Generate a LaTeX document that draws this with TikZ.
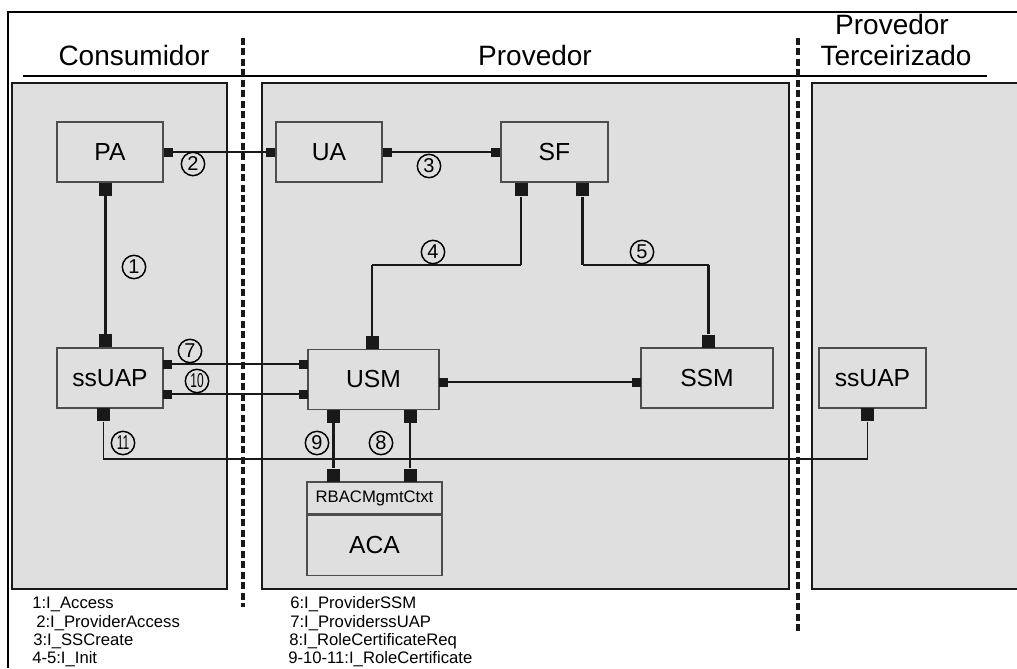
\documentclass[tikz,border=0pt]{standalone}
\usepackage{fontspec}
\setmainfont{Liberation Sans}
\usetikzlibrary{positioning}
\definecolor{panelgray}{HTML}{DFDFDF}
\definecolor{boxline}{HTML}{4D4D4D}
\tikzset{
  panel/.style={draw=black!90, line width=1.1pt, fill=panelgray},
  comp/.style={draw=boxline, line width=0.8pt, fill=panelgray, minimum height=45pt, inner sep=0pt, font=\fontsize{18.5}{18.5}\selectfont},
  sport/.style={fill=black!90, minimum size=6.75pt, inner sep=0pt},
  bport/.style={fill=black!90, minimum size=9.75pt, inner sep=0pt},
  wire/.style={line width=0.9pt, draw=black!90},
  twire/.style={line width=1.6pt, draw=black!90},
  cnum/.style={circle, draw, line width=1.1pt, minimum size=17.5pt, inner sep=0pt, font=\fontsize{15}{15}\selectfont},
  head/.style={font=\fontsize{21}{21}\selectfont, anchor=base, inner sep=0pt},
  leg/.style={font=\fontsize{12.5}{12.5}\selectfont, anchor=base west, inner sep=0pt},
  sep/.style={line width=2.6pt, dash pattern=on 5.25pt off 2.6pt, draw=black!90},
}
\newcommand{\twodig}[1]{\scalebox{0.6}[1]{#1}}

\begin{document}
\begin{tikzpicture}[x=0.75pt, y=-0.75pt]
  \useasboundingbox (0,0) rectangle (1017,668);
  % frame and headings
  \draw[line width=1.5pt] (8,668) -- (8,12) -- (1017,12);
  \node[head] (hcons) at (134,65) {Consumidor};
  \node[head] (hprov) at (535,65) {Provedor};
  \node[head] (hterca) at (892,34) {Provedor};
  \node[head] (htercb) at (896,65) {Terceirizado};
  \draw[line width=0.8pt] (23,76) -- (987,76);
  % panels
  \draw[panel] (12,83) rectangle (227,589);
  \draw[panel] (262,83) rectangle (789,589);
  \draw[panel] (812,83) rectangle (1022,589);
  \draw[sep] (243,38) -- (243,607);
  \draw[sep] (798,38) -- (798,633);

  % components
  \node[comp, minimum width=79.5pt] (pa) at (110,152) {PA};
  \node[comp, minimum width=79.5pt] (ua) at (329,152) {UA};
  \node[comp, minimum width=80.25pt] (sf) at (554.5,152) {SF};
  \node[comp, minimum width=79.5pt] (ssl) at (110,378) {ssUAP};
  \node[comp, minimum width=98.25pt] (usm) at (373.5,379.5) {USM};
  \node[comp, minimum width=99pt] (ssm) at (707,378) {SSM};
  \node[comp, minimum width=80.25pt] (ssr) at (872.5,378) {ssUAP};
  \node[comp, minimum width=101.25pt, minimum height=24pt, font=\fontsize{12.5}{12.5}\selectfont] (rb) at (374.5,498) {RBACMgmtCtxt};
  \node[comp, minimum width=101.25pt, anchor=north] (aca) at (rb.south) {ACA};

  % ports
  \node[sport, anchor=west] (pa-e) at (pa.east) {};
  \node[sport, anchor=east] (ua-w) at (ua.west) {};
  \node[sport, anchor=west] (ua-e) at (ua.east) {};
  \node[sport, anchor=east] (sf-w) at (sf.west) {};
  \node[bport, anchor=north] (pa-b) at ([xshift=-3.4pt]pa.south) {};
  \node[bport, anchor=south] (ssl-t) at ([xshift=-3.4pt]ssl.north) {};
  \node[bport, anchor=north] (sf-b1) at (521,183) {};
  \node[bport, anchor=north] (sf-b2) at (582.5,183) {};
  \node[bport, anchor=south] (usm-t) at (372,349.5) {};
  \node[bport, anchor=south] (ssm-t) at (708.5,348) {};
  \node[sport] (ssl-e1) at (167.5,364) {};
  \node[sport] (ssl-e2) at (167.5,394) {};
  \node[sport] (usm-w1) at (303.5,364) {};
  \node[sport] (usm-w2) at (303.5,394) {};
  \node[sport] (usm-e) at (443.5,382) {};
  \node[sport] (ssm-w) at (636.5,382) {};
  \node[bport, anchor=north] (usm-b1) at (333.5,409.5) {};
  \node[bport, anchor=north] (usm-b2) at (410,409.5) {};
  \node[bport, anchor=south] (rb-t1) at (333.5,482) {};
  \node[bport, anchor=south] (rb-t2) at (410,482) {};
  \node[bport, anchor=north] (ssl-b) at (103.5,408) {};
  \node[bport, anchor=north] (ssr-b) at (867.5,408) {};

  % bends
  \coordinate (j4a) at (521,265);
  \coordinate (j4b) at (372,265);
  \coordinate (j5a) at (582.5,265);
  \coordinate (j5b) at (708.5,265);
  \coordinate (j11a) at (103.5,459);
  \coordinate (j11b) at (867.5,459);

  % connectors
  \draw[wire] (pa-e) -- (ua-w);
  \draw[wire] (ua-e) -- (sf-w);
  \draw[twire] (pa-b) -- (ssl-t);
  \draw[twire] (sf-b1.south) -- (j4a);
  \draw[wire] (j4a) -- (j4b);
  \draw[twire] (j4b) -- (usm-t.north);
  \draw[twire] (sf-b2.south) -- (j5a);
  \draw[wire] (j5a) -- (j5b);
  \draw[twire] (j5b) -- (ssm-t.north);
  \draw[wire] (ssl-e1) -- (usm-w1);
  \draw[wire] (ssl-e2) -- (usm-w2);
  \draw[wire] (usm-e) -- (ssm-w);
  \draw[twire] (usm-b1) -- (rb-t1);
  \draw[twire] (usm-b2) -- (rb-t2);
  \draw[wire] (ssl-b.south) -- (j11a) -- (j11b) -- (ssr-b.south);

  % interface numbers
  \node[cnum] (n1) at (134,267) {1};
  \node[cnum] (n2) at (193,164) {2};
  \node[cnum] (n3) at (429,166) {3};
  \node[cnum] (n4) at (433,252) {4};
  \node[cnum] (n5) at (642,252) {5};
  \node[cnum] (n7) at (190,351) {7};
  \node[cnum] (n10) at (197,381) {\twodig{10}};
  \node[cnum] (n11) at (123,443) {\twodig{11}};
  \node[cnum] (n9) at (317,443) {9};
  \node[cnum] (n8) at (381,443) {8};

  % legend
  \node[leg] (l1) at (32,608) {1:I\_Access};
  \node[leg] (l2) at (36,627) {2:I\_ProviderAccess};
  \node[leg] (l3) at (33,645) {3:I\_SSCreate};
  \node[leg] (l4) at (32,663) {4-5:I\_Init};
  \node[leg] (l6) at (290,608) {6:I\_ProviderSSM};
  \node[leg] (l7) at (290,627) {7:I\_ProviderssUAP};
  \node[leg] (l8) at (289,645) {8:I\_RoleCertificateReq};
  \node[leg] (l9) at (288,663) {9-10-11:I\_RoleCertificate};
\end{tikzpicture}
\end{document}
